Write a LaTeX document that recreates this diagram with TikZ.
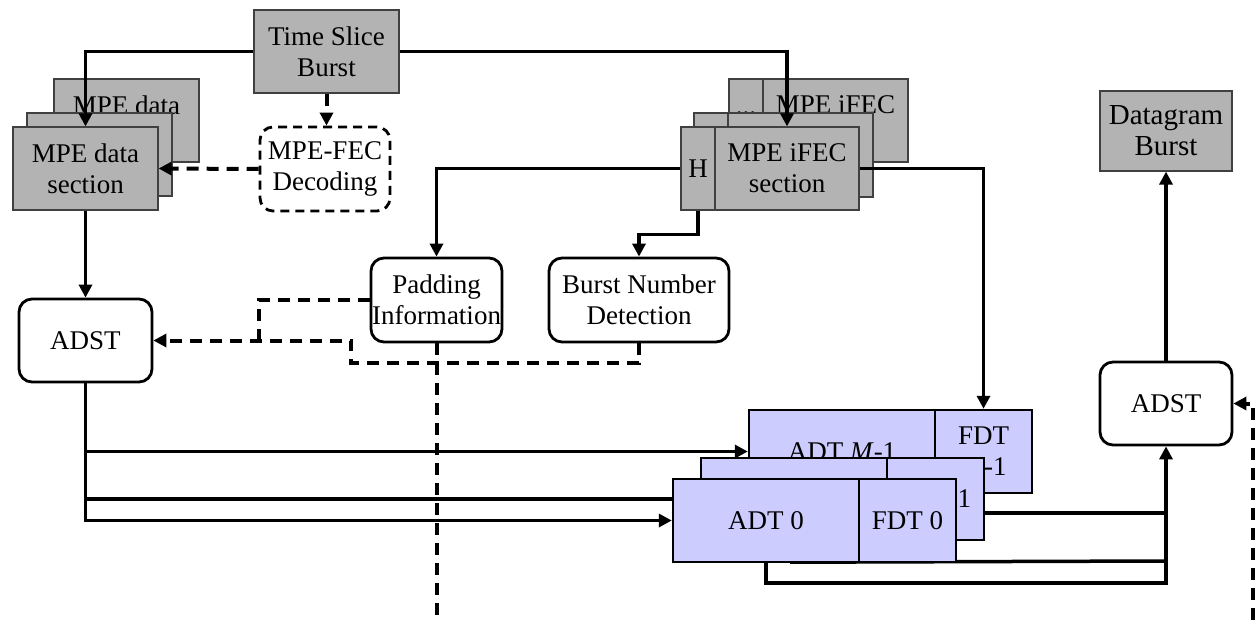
\documentclass[tikz,border=0pt]{standalone}
\usepackage{fontspec}
\setmainfont{Liberation Serif}
\usetikzlibrary{arrows.meta,calc}
\definecolor{gbox}{HTML}{B3B3B3}
\definecolor{bbox}{HTML}{CCCCFF}
\newcommand\fsz{\fontsize{27}{31}\selectfont}
\begin{document}
\begin{tikzpicture}[x=1pt,y=-1pt,
  graybox/.style={draw=black!75,fill=gbox,line width=1.2pt,inner sep=0pt,align=center,font=\fsz},
  rbox/.style={draw=black,fill=white,rounded corners=13pt,line width=2.8pt,inner sep=0pt,align=center,font=\fsz},
  bluebox/.style={draw=black,fill=bbox,line width=2.4pt,inner sep=0pt,align=center,font=\fsz},
  conn/.style={line width=3.5pt},
  arr/.style={conn,-{Triangle[length=13pt,width=13pt]}},
  dline/.style={line width=4pt,dash pattern=on 12pt off 8pt},
  darr/.style={dline,-{Triangle[length=13pt,width=13pt]}}
]
\useasboundingbox (0,0) rectangle (1260,623);

% Time slice burst
\node[graybox,minimum width=145pt,minimum height=83pt] (tsb) at (326.5,51.5) {Time Slice\\Burst};

% MPE data stack
\node[graybox,minimum width=145pt,minimum height=83pt] (mdb) at (126.5,120.5) {MPE data\\section};
\node[graybox,minimum width=145pt,minimum height=83pt] (mdm) at (99.5,154.5) {};
\node[graybox,minimum width=145pt,minimum height=83pt] (md) at (85.5,168.5) {MPE data\\section};

% MPE-FEC decoding
\node[rbox,dash pattern=on 9pt off 6pt,minimum width=130pt,minimum height=84pt] (fec) at (325,169) {MPE-FEC\\Decoding};

% MPE iFEC stack
\node[graybox,minimum width=34pt,minimum height=83pt] (ifHb) at (746,120.5) {};
\node[graybox,minimum width=145pt,minimum height=83pt] (ifSb) at (835.5,120.5) {MPE iFEC\\section};
\node[font=\fsz,inner sep=0pt,anchor=base] (dots) at (746,114.5) {...};
\node[graybox,minimum width=34pt,minimum height=84pt] (ifHm) at (711,155) {};
\node[graybox,minimum width=145pt,minimum height=84pt] (ifSm) at (800.5,155) {};
\node[graybox,minimum width=34pt,minimum height=83pt] (ifH) at (698,168.5) {H};
\node[graybox,minimum width=144pt,minimum height=83pt] (ifS) at (787,168.5) {MPE iFEC\\section};

% Datagram burst
\node[graybox,minimum width=132pt,minimum height=80pt,font=\fontsize{29}{31}\selectfont] (dg) at (1166,131) {Datagram\\Burst};

% rounded process boxes
\node[rbox,minimum width=133pt,minimum height=83pt] (adst) at (85.5,340.5) {ADST};
\node[rbox,minimum width=131pt,minimum height=84pt] (pad) at (436.5,300) {Padding\\Information};
\node[rbox,minimum width=180pt,minimum height=84pt] (bnd) at (639,300) {Burst Number\\Detection};
\node[rbox,minimum width=132pt,minimum height=83pt] (adst2) at (1166,403.5) {ADST};

% connector hidden behind the ADT stack
\draw[arr] (adst.south) |- (701,499) coordinate (in1);

% ADT stack, back
\node[bluebox,minimum width=186pt,minimum height=83pt] (adtM) at (842,451.5) {ADT \textit{M}-1};
\node[bluebox,minimum width=97pt,minimum height=83pt] (fdtM) at (983.5,451.5) {FDT\\\textit{M}-1};
\draw[conn] ($(adtM.south west)+(44,0)$) -- ++(0,68) -- (1166,561);
% middle
\node[bluebox,minimum width=186pt,minimum height=82pt] (adt1) at (794,499) {ADT 1};
\node[bluebox,minimum width=97pt,minimum height=82pt] (fdt1) at (935.5,499) {FDT 1};
% front
\node[bluebox,minimum width=186pt,minimum height=83pt] (adt0) at (766,520.5) {ADT 0};
\node[bluebox,minimum width=97pt,minimum height=83pt] (fdt0) at (907.5,520.5) {FDT 0};

% solid connectors
\draw[arr] (tsb.west) -| (md.north);
\draw[arr] (tsb.east) -| (ifS.north);
\draw[arr] (md.south) -- (adst.north);
\draw[arr] (ifH.west) -| (pad.north);
\draw[arr] (ifH.south) -- ++(0,24) -| (bnd.north);
\draw[arr] (ifS.east) -| (fdtM.north);
\draw[arr] (adst.south) |- (adtM.west);
\draw[arr] (adst.south) |- (adt0.west);
\draw[conn] ($(fdt1.east)+(0,14)$) -- ($(adst2.south |- fdt1.east)+(0,14)$);
\draw[arr] (adt0.south) -- ++(0,20) -| (adst2.south);
\draw[arr] (adst2.north) -- (dg.south);

% dashed connectors
\draw[darr] (tsb.south) -- (tsb.south |- fec.north);
\draw[darr] (fec.west) -- (md.east);
\draw[dline] (pad.west) -- ++(-111,0) -- ++(0,41);
\draw[darr] (bnd.south) -- ++(0,20) -| ($(adst.east)+(198,0)$) -- (adst.east);
\begin{scope}
\clip (0,0) rectangle (1260,623);
\draw[darr] (pad.south) -- ++(0,320) -| ($(adst2.east)+(20,0)$) -- (adst2.east);
\end{scope}
\end{tikzpicture}
\end{document}
